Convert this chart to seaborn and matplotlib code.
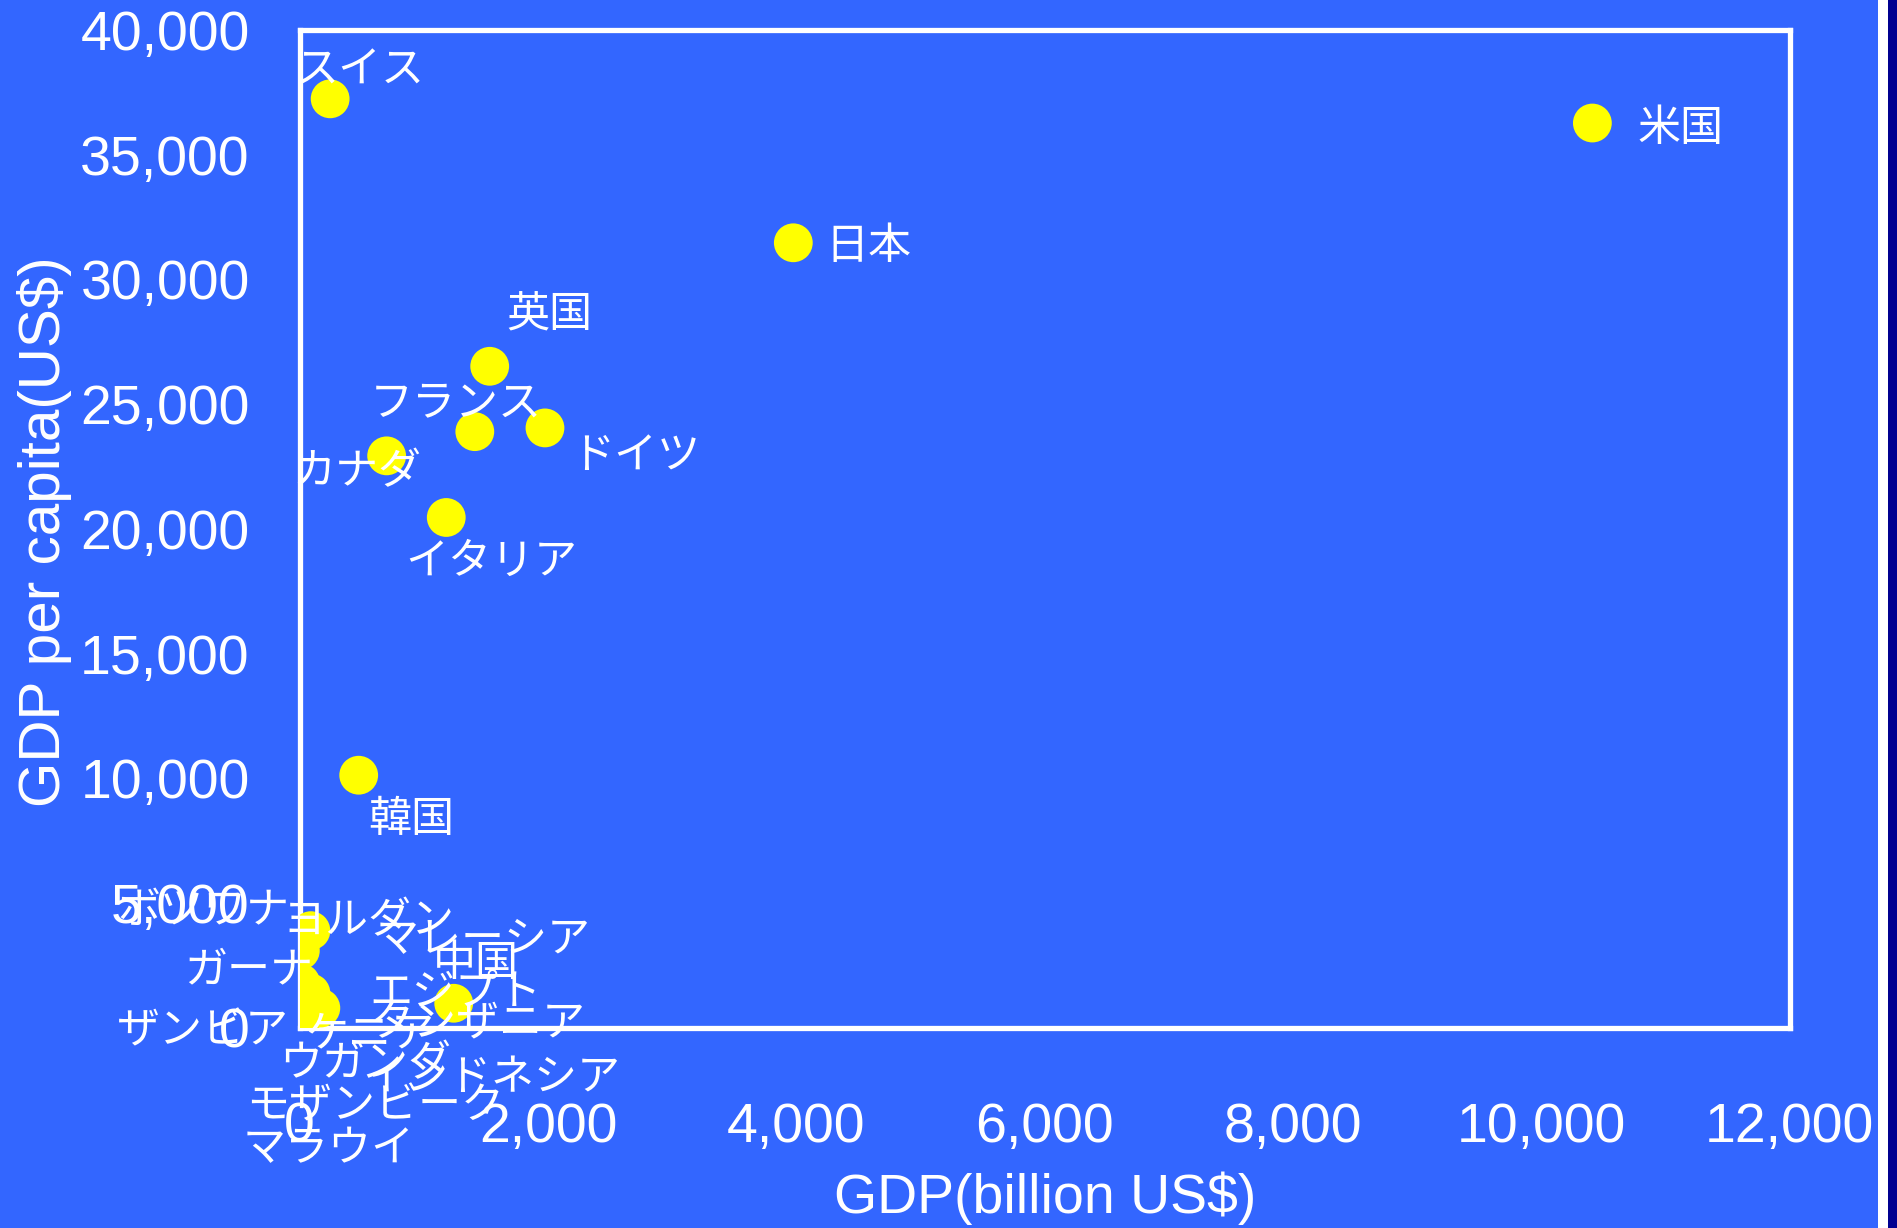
import numpy as np
import pandas as pd
import matplotlib
matplotlib.use("Agg")
import matplotlib.pyplot as plt
import matplotlib.ticker as mticker
from matplotlib import font_manager
from matplotlib.patches import Rectangle
import seaborn as sns

# data (GDP in billion US$, GDP per capita in US$)
countries = ["スイス", "米国", "日本", "英国", "フランス", "ドイツ", "カナダ", "イタリア", "韓国",
             "ボツワナ", "ヨルダン", "マレーシア", "ガーナ", "中国", "エジプト", "ザンビア",
             "タンザニア", "ケニア", "ウガンダ", "インドネシア", "モザンビーク", "マラウイ"]
gdp = [245, 10410, 3975, 1530, 1410, 1975, 700, 1180, 475,
       5, 9, 90, 6, 1240, 90, 4,
       9, 12, 6, 170, 4, 2]
gdp_per_capita = [37240, 36270, 31470, 26520, 23900, 24050, 22930, 20460, 10130,
                  3100, 1800, 3900, 320, 990, 1400, 340,
                  270, 390, 240, 800, 200, 160]

x_ticks = [0, 2000, 4000, 6000, 8000, 10000, 12000]
y_ticks = [0, 5000, 10000, 15000, 20000, 25000, 30000, 35000, 40000]

# label offsets from each point, in pixels (x right, y up)
label_offsets = {
    "スイス": (30, 28), "米国": (88, -6), "日本": (75, -4), "英国": (60, 51),
    "フランス": (-19, 28), "ドイツ": (91, -28), "カナダ": (-30, -16), "イタリア": (45, -44),
    "韓国": (53, -45), "ボツワナ": (-97, 40), "ヨルダン": (68, 62), "マレーシア": (172, -9),
    "ガーナ": (-52, 50), "中国": (22, 39), "エジプト": (144, 0), "ザンビア": (-97, -12),
    "タンザニア": (177, -2), "ケニア": (68, -16), "ウガンダ": (65, -42),
    "インドネシア": (170, -70), "モザンビーク": (75, -83), "マラウイ": (29, -125),
}

df = pd.DataFrame({"country": countries, "gdp": gdp, "gdp_per_capita": gdp_per_capita})

bg = "#3366FF"
sns.set_theme(style="white")

names = {f.name for f in font_manager.fontManager.ttflist}
num_font = "Liberation Sans Narrow" if "Liberation Sans Narrow" in names else "Liberation Sans"
jp_font = ["Noto Sans CJK JP", "DejaVu Sans"]
plt.rcParams["font.family"] = [num_font, "Noto Sans CJK JP", "DejaVu Sans"]

fig = plt.figure(figsize=(18.97, 12.28), dpi=100, facecolor=bg)
ax = fig.add_axes([0.158, 0.1629, 0.7855, 0.8127])
ax.set_facecolor(bg)

sns.scatterplot(data=df, x="gdp", y="gdp_per_capita", ax=ax, s=780,
                color="#FFFF00", edgecolor="none", zorder=3, legend=False)

for c, x, y in zip(countries, gdp, gdp_per_capita):
    dx, dy = label_offsets[c]
    ax.annotate(c, (x, y), xytext=(dx, dy), textcoords="offset pixels",
                ha="center", va="center", color="white", fontsize=31,
                family=jp_font, zorder=4, annotation_clip=False)

ax.set_xlim(0, 12000)
ax.set_ylim(0, 40000)
ax.set_xticks(x_ticks)
ax.set_yticks(y_ticks)
fmt = mticker.FuncFormatter(lambda v, p: f"{int(v):,}")
ax.xaxis.set_major_formatter(fmt)
ax.yaxis.set_major_formatter(fmt)

ax.tick_params(axis="both", direction="in", length=13, width=2.5, color="white",
               labelcolor="white", labelsize=40)
ax.tick_params(axis="x", pad=53)
ax.tick_params(axis="y", pad=36)
for sp in ax.spines.values():
    sp.set_color("white")
    sp.set_linewidth(3.8)

ax.set_xlabel("GDP(billion US$)", color="white", fontsize=40)
ax.set_ylabel("GDP per capita(US$)", color="white", fontsize=42)
ax.xaxis.label.set_va("center")
ax.yaxis.label.set_va("center")
ax.xaxis.set_label_coords(0.5, -0.171)
ax.yaxis.set_label_coords(-0.171, 0.497)

# frame stripes at the right edge
W, H = 1897, 1228
fig.patches.append(Rectangle((1878 / W, 0), 10 / W, 1, transform=fig.transFigure,
                             facecolor="white", edgecolor="none"))
fig.patches.append(Rectangle((1888 / W, 0), 9 / W, 1, transform=fig.transFigure,
                             facecolor="#000090", edgecolor="none"))

fig.savefig("out.png", dpi=100, facecolor=bg)
